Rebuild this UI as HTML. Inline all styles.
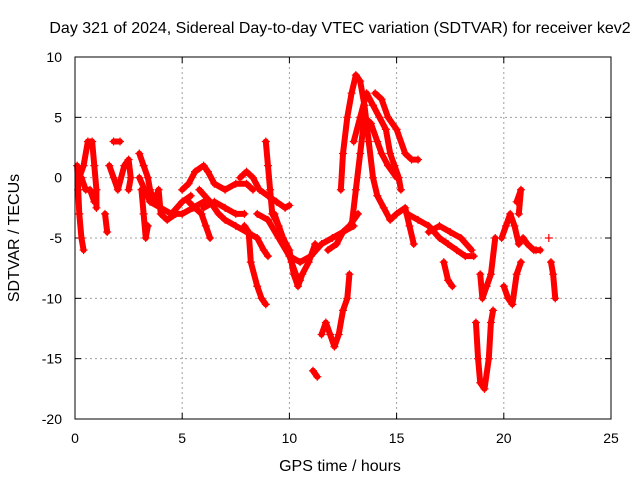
<!DOCTYPE html>
<html><head><meta charset="utf-8"><style>
body{margin:0;background:#fff}
svg{display:block;font-family:"Liberation Sans",sans-serif}
</style></head><body>
<svg id="chart" width="640" height="480">
<rect width="640" height="480" fill="#fff"/>
<text x="340" y="33" font-size="16" text-anchor="middle">Day 321 of 2024, Sidereal Day-to-day VTEC variation (SDTVAR) for receiver kev2</text>
<text x="340" y="471" font-size="16" text-anchor="middle">GPS time / hours</text>
<text transform="translate(19,238) rotate(-90)" font-size="16" text-anchor="middle">SDTVAR / TECUs</text>
<g id="grid"></g><g id="marks"></g>
<rect x="75" y="57" width="536" height="362" fill="none" stroke="#000" stroke-width="1"/>
</svg>
<script>
const xTicks=[0,5,10,15,20,25];
const yTicks=[10,5,0,-5,-10,-15,-20];
const tracks=[
[[0.1,1],[0.15,-1],[0.2,-3],[0.3,-5],[0.4,-6]],
[[0.2,0],[0.4,1],[0.6,3],[0.8,3],[0.9,1],[1.0,-1],[1.0,-2.5]],
[[0.3,0],[0.5,-1],[0.7,-1],[0.9,-2]],
[[1.4,-3],[1.5,-4.5]],
[[1.6,1],[1.8,0],[2.0,-1],[2.3,1],[2.5,1.5],[2.6,0],[2.5,-1]],
[[1.8,3],[2.1,3]],
[[3.0,2],[3.2,1],[3.4,0],[3.5,-1],[3.7,-2],[3.9,-1],[4.0,-3],[4.3,-3.5],[4.7,-3],[5.0,-3],[5.5,-2.5],[6.0,-2]],
[[3.1,-1],[3.2,-3],[3.3,-5],[3.4,-4]],
[[3.0,0],[3.5,-2],[4.0,-2.5],[4.5,-3],[5.0,-2],[5.4,-1.5]],
[[5.0,-1],[5.3,-0.5],[5.6,0.5],[6.0,1],[6.2,0.5],[6.5,-0.5],[7.0,-1],[7.5,-0.5],[8.0,-0.5],[8.3,-1]],
[[5.3,-2],[5.6,-2.5],[5.9,-3],[6.1,-4],[6.3,-5]],
[[5.8,-1],[6.3,-2],[6.7,-3],[7.0,-3.5],[7.5,-4],[8.0,-4.5],[8.5,-5],[8.8,-6],[9.0,-6.5]],
[[6.0,-2.5],[6.5,-2],[7.0,-2.5],[7.5,-3],[7.9,-3]],
[[7.9,-4],[8.1,-4.5],[8.2,-7],[8.5,-9],[8.7,-10],[8.9,-10.5]],
[[7.7,0],[8.0,0.5],[8.3,0],[8.6,-1],[9.0,-1.5],[9.4,-2],[9.8,-2.5],[10.0,-2.3]],
[[8.5,-3],[9.0,-3.5],[9.5,-5],[10.0,-6.5],[10.5,-7],[11.0,-6.5],[11.5,-5.5],[12.0,-5],[12.5,-4.5],[13.0,-4]],
[[8.9,3],[9.0,1],[9.1,-1],[9.2,-3],[9.5,-4],[9.8,-5.5],[10.1,-7],[10.3,-8],[10.5,-8.5]],
[[9.3,-3],[9.7,-5],[10.0,-6],[10.2,-8],[10.4,-9],[10.6,-8],[10.9,-7],[11.2,-5.5]],
[[11.1,-16],[11.3,-16.5]],
[[11.5,-13],[11.7,-12],[11.9,-13],[12.1,-14],[12.3,-13],[12.5,-11],[12.7,-10],[12.8,-8]],
[[11.8,-6],[12.2,-5.5],[12.5,-4.5],[12.8,-4],[13.2,-3]],
[[12.4,-1],[12.5,2],[12.7,5],[12.9,7],[13.1,8.5],[13.3,8],[13.5,6],[13.7,3],[13.9,0],[14.1,-1.5],[14.4,-2.5],[14.7,-3.5],[15.0,-3],[15.4,-2.5],[15.6,-4],[15.8,-5.5]],
[[13.0,3],[13.3,5],[13.6,7],[13.9,6],[14.2,5],[14.5,4],[14.7,2],[14.9,1],[15.1,0],[15.2,-1]],
[[12.9,-4],[13.1,-1],[13.3,2],[13.5,5],[13.8,4.5],[14.1,3],[14.3,2],[14.6,1],[15.0,0]],
[[14.0,7],[14.3,6.5],[14.6,5],[15.0,4],[15.4,2],[15.7,1.5],[16.0,1.5]],
[[15.5,-3],[16,-3.5],[16.5,-4],[17,-5],[17.4,-5.5],[17.8,-6],[18.2,-6.5],[18.6,-6.5]],
[[16.5,-4.5],[17,-4],[17.5,-4.5],[18,-5],[18.5,-6]],
[[17.2,-7],[17.4,-8.5],[17.6,-9]],
[[18.9,-8],[19.0,-10],[19.2,-9],[19.4,-8],[19.6,-5]],
[[18.7,-12],[18.8,-15],[18.9,-17],[19.1,-17.5],[19.3,-15],[19.4,-12],[19.5,-11]],
[[19.9,-5],[20.1,-4],[20.3,-3],[20.5,-4],[20.7,-5.5],[20.9,-5],[21.1,-5.5],[21.4,-6]],
[[20.6,-2],[20.8,-1],[20.7,-3]],
[[20.0,-9],[20.2,-10],[20.4,-10.5],[20.6,-8],[20.8,-7]],
[[21.5,-6],[21.7,-6]],
[[22.2,-7],[22.3,-8],[22.4,-10]],
[[22.1,-5]]
];
const NS="http://www.w3.org/2000/svg";
const X0=75,X1=611,Y0=419,Y1=57;
function sx(v){return X0+(v-0)/(25-0)*(X1-X0);}
function sy(v){return Y0-(v+20)/(30)*(Y0-Y1);}
const grid=document.getElementById('grid'),marks=document.getElementById('marks'),svg=document.getElementById('chart');
function mk(tag,attrs,parent){const e=document.createElementNS(NS,tag);for(const k in attrs)e.setAttribute(k,attrs[k]);parent.appendChild(e);return e;}
xTicks.forEach(t=>{const x=sx(t);
 if(t>0&&t<25){const g=mk('line',{x1:x,y1:Y1,x2:x,y2:Y0,stroke:'#a0a0a0','stroke-dasharray':'2,3'},grid);
 
 }
 mk('line',{x1:x,y1:Y0,x2:x,y2:Y0-6,stroke:'#000'},grid);mk('line',{x1:x,y1:Y1,x2:x,y2:Y1+6,stroke:'#000'},grid);
 const tx=mk('text',{x:x,y:443,'font-size':14,'text-anchor':'middle'},svg);tx.textContent=t;
 
 });
yTicks.forEach(t=>{const y=sy(t);
 if(t>-20&&t<10){const g=mk('line',{x1:X0,y1:y,x2:X1,y2:y,stroke:'#a0a0a0','stroke-dasharray':'2,3'},grid);
 
 }
 mk('line',{x1:X0,y1:y,x2:X0+6,y2:y,stroke:'#000'},grid);mk('line',{x1:X1,y1:y,x2:X1-6,y2:y,stroke:'#000'},grid);
 const tx=mk('text',{x:62,y:y+5,'font-size':14,'text-anchor':'end'},svg);tx.textContent=t;
 
 });
tracks.forEach(tr=>{
 const pl=mk('polyline',{points:tr.map(p=>sx(p[0])+','+sy(p[1])).join(' '),fill:'none',stroke:'#ff0000','stroke-width':6,'stroke-linejoin':'round','stroke-linecap':'round'},marks);
 
 
 tr.forEach(p=>{const x=sx(p[0]),y=sy(p[1]);
  const m=mk('path',{d:`M${x-4},${y}H${x+4}M${x},${y-4}V${y+4}`,stroke:'#ff0000','stroke-width':1.2},marks);
  
  });
});
</script>
</body></html>
